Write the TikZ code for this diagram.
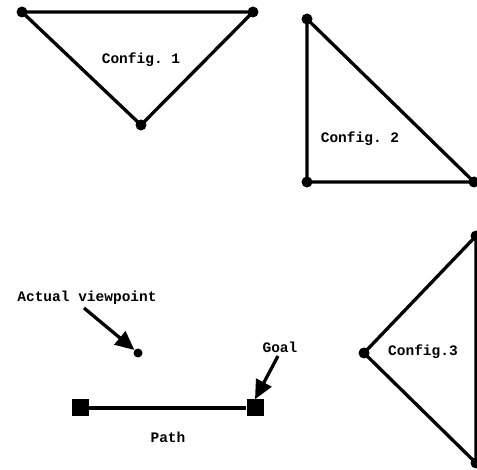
\documentclass[tikz,border=0pt]{standalone}
\usepackage{fontspec}
\setmonofont{Liberation Mono}
\usetikzlibrary{arrows.meta}
\tikzset{
  edge/.style={line width=3.3pt, line join=round},
  vtx/.style={circle, fill=black, inner sep=0pt, minimum size=11pt},
  sq/.style={rectangle, fill=black, inner sep=0pt, minimum size=17pt},
  lbl/.style={font=\ttfamily\bfseries\fontsize{14.5}{16}\selectfont, inner sep=1pt},
  pointer/.style={line width=3.3pt, -{Triangle[length=19pt,width=17pt]}, shorten >=0pt}
}
\begin{document}
\begin{tikzpicture}[x=1pt,y=-1pt]
\useasboundingbox (0,0) rectangle (477,470);
% Config 1
\node[vtx] (a1) at (22,12) {};
\node[vtx] (a2) at (253,12) {};
\node[vtx] (a3) at (141,125) {};
\draw[edge] (a1.center) -- (a2.center) -- (a3.center) -- cycle;
\node[lbl] (c1) at (141,60) {Config. 1};
% Config 2
\node[vtx] (b1) at (307,19) {};
\node[vtx] (b2) at (307,182) {};
\node[vtx] (b3) at (474,182) {};
\draw[edge] (b1.center) -- (b2.center) -- (b3.center) -- cycle;
\node[lbl] (c2) at (360,139) {Config. 2};
% Config 3
\node[vtx] (d1) at (476,236) {};
\node[vtx] (d2) at (364,353) {};
\node[vtx] (d3) at (476,463) {};
\draw[edge] (d1.center) -- (d2.center) -- (d3.center) -- cycle;
\node[lbl] (c3) at (423,352) {Config.3};
% Path
\node[sq] (s) at (80,408) {};
\node[sq] (g) at (255,408) {};
\draw[edge] (s) -- (g);
\node[lbl] (pl) at (168,437) {Path};
% Viewpoint
\node[vtx, minimum size=9pt] (v) at (138,353) {};
\node[lbl] (vl) at (87,298) {Actual viewpoint};
\coordinate (vs) at (84,308);
\draw[pointer] (vs) -- (v);
% Goal
\node[lbl] (gl) at (280,347) {Goal};
\coordinate (gs) at (278,356);
\draw[pointer] (gs) -- (g.north);
\end{tikzpicture}
\end{document}
